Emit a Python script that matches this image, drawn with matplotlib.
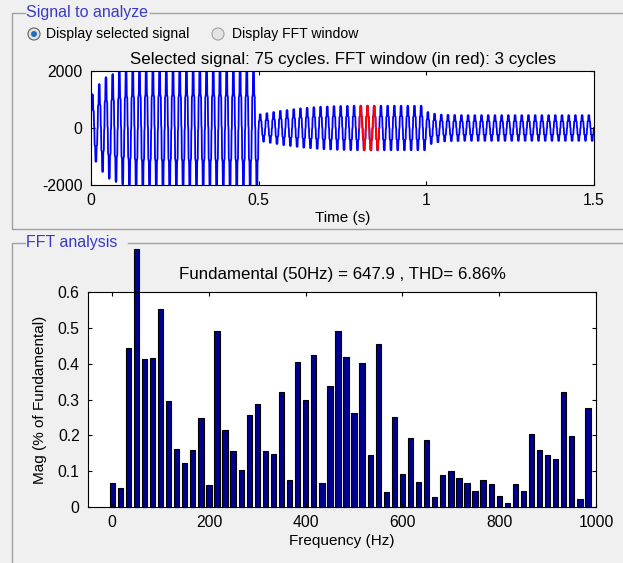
import numpy as np
import matplotlib
matplotlib.use("Agg")
import matplotlib.pyplot as plt
from matplotlib.patches import Circle

plt.rcParams['font.family'] = ['Liberation Sans', 'DejaVu Sans']
plt.rcParams['axes.unicode_minus'] = False

# ----------
# DATA
# ----------
f0 = 50.0
# one cycle of the stepped waveform (fraction of peak)
half_shape = [0.0, 0.5, 0.52, 0.55, 0.98, 1.0, 1.0, 0.98, 0.55, 0.52, 0.5, 0.05]
cycle_shape = half_shape + [-v for v in half_shape]

# peak amplitude of each of the 75 cycles
amp_seg1 = [1180, 1540, 1780, 1890, 1980, 2050, 2100, 2150, 2150, 2150,
            2150, 2150, 2150, 2150, 2150, 2150, 2150, 2150, 2150, 2150,
            2150, 2150, 2150, 2150, 2150]
amp_seg2 = [480, 520, 560, 600, 630, 660, 690, 710, 730, 745,
            755, 765, 770, 775, 780, 780, 780, 780, 780, 780,
            780, 780, 780, 780, 780]
amp_seg3 = [560, 500, 470, 460, 455, 450, 450, 450, 450, 450,
            450, 450, 450, 450, 450, 450, 450, 450, 450, 450,
            450, 450, 450, 450, 450]
cycle_amps = amp_seg1 + amp_seg2 + amp_seg3
fft_cycles = [40, 41, 42]   # cycles drawn in red

# FFT bars (% of fundamental), resolution 50/3 Hz
fft_mag = [0.067, 0.052, 0.443, 0.719, 0.413, 0.417, 0.552, 0.295, 0.162, 0.124,
           0.159, 0.248, 0.062, 0.491, 0.216, 0.157, 0.103, 0.258, 0.287, 0.157,
           0.148, 0.322, 0.074, 0.405, 0.299, 0.425, 0.067, 0.337, 0.491, 0.420,
           0.261, 0.402, 0.144, 0.455, 0.041, 0.251, 0.091, 0.192, 0.070, 0.187,
           0.029, 0.089, 0.101, 0.082, 0.067, 0.044, 0.075, 0.063, 0.032, 0.011,
           0.063, 0.044, 0.204, 0.159, 0.144, 0.133, 0.322, 0.197, 0.023, 0.277]
fft_freq = np.arange(len(fft_mag)) * f0 / 3

# ----------
# BUILD SIGNAL
# ----------
n = len(cycle_shape)
t_list, y_list = [], []
for k, a in enumerate(cycle_amps):
    t_list.append((k + np.arange(n) / n) / f0)
    y_list.append(a * np.array(cycle_shape))
t = np.concatenate(t_list + [[len(cycle_amps) / f0]])
y = np.concatenate(y_list + [[0.0]])

W, H = 623, 563
fig = plt.figure(figsize=(W / 100, H / 100), dpi=100, facecolor='#F0F0F0')

# overlay for group boxes and radio buttons (pixel coords)
ov = fig.add_axes([0, 0, 1, 1])
ov.set_xlim(0, W)
ov.set_ylim(H, 0)
ov.axis('off')
gray = '#A0A0A0'
title_col = '#3A3AC8'
# top group box
ov.plot([25, 12, 12, 623], [13, 13, 229, 229], color=gray, lw=1)
ov.plot([150, 623], [13, 13], color=gray, lw=1)
ov.text(26, 13, "Signal to analyze", color=title_col, fontsize=11.5, va='center')
# bottom group box
ov.plot([25, 12, 12], [243, 243, 563], color=gray, lw=1)
ov.plot([128, 623], [243, 243], color=gray, lw=1)
ov.text(26, 243, "FFT analysis", color=title_col, fontsize=11.5, va='center')
# radio buttons
ov.add_patch(Circle((34, 34), 6, facecolor='#E4E4E4', edgecolor='#606060', lw=0.8))
ov.add_patch(Circle((34, 34), 3, facecolor='#1C6EC0', edgecolor='none'))
ov.text(46, 34, "Display selected signal", fontsize=10.1, va='center')
ov.add_patch(Circle((218, 34), 6, facecolor='#E4E4E4', edgecolor='#A0A0A0', lw=0.8))
ov.text(232, 34, "Display FFT window", fontsize=10.1, va='center')

# ----------
# SIGNAL AXES
# ----------
ax1 = fig.add_axes([91 / W, 1 - 185 / H, 503 / W, 114 / H])
ax1.plot(t, y, color='#0000FF', lw=1.3)
for c in fft_cycles:
    m = (t >= c / f0) & (t <= (c + 1) / f0)
    ax1.plot(t[m], y[m], color='#FF0000', lw=1.3)
ax1.set_xlim(0, 1.5)
ax1.set_ylim(-2000, 2000)
ax1.set_xticks([0, 0.5, 1, 1.5])
ax1.set_xticklabels(['0', '0.5', '1', '1.5'])
ax1.set_yticks([-2000, 0, 2000])
ax1.set_xlabel("Time (s)", fontsize=11, labelpad=2)
ax1.set_title("Selected signal: 75 cycles. FFT window (in red): 3 cycles",
              fontsize=12.2, pad=5)

# ----------
# FFT AXES
# ----------
ax2 = fig.add_axes([88 / W, 1 - 507 / H, 508 / W, 215 / H])
bars = ax2.bar(fft_freq, fft_mag, width=11, color='#00008F',
               edgecolor='black', linewidth=0.8)
for b in bars:
    b.set_clip_on(False)
ax2.set_xlim(-50, 1000)
ax2.set_ylim(0, 0.6)
ax2.set_xticks([0, 200, 400, 600, 800, 1000])
ax2.set_yticks([0, 0.1, 0.2, 0.3, 0.4, 0.5, 0.6])
ax2.set_yticklabels(['0', '0.1', '0.2', '0.3', '0.4', '0.5', '0.6'])
ax2.set_xlabel("Frequency (Hz)", fontsize=11, labelpad=3)
ax2.set_ylabel("Mag (% of Fundamental)", fontsize=11, labelpad=8)
ax2.set_title("Fundamental (50Hz) = 647.9 , THD= 6.86%", fontsize=12.2, pad=9)

for ax in (ax1, ax2):
    ax.tick_params(direction='in', top=True, right=True, length=3,
                   labelsize=11.3, pad=6)
    for s in ax.spines.values():
        s.set_linewidth(0.8)

fig.savefig("out.png", dpi=100, facecolor=fig.get_facecolor())
